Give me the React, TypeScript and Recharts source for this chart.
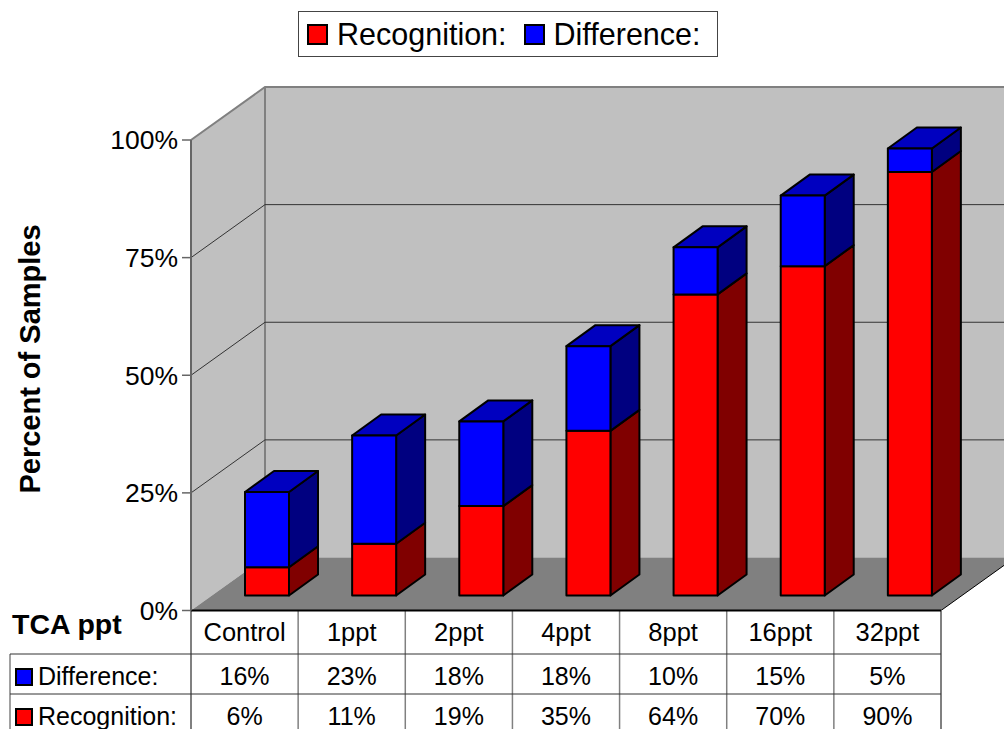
import { BarChart, Bar, XAxis, YAxis, CartesianGrid, Legend, Customized } from 'recharts'

const categories = ['Control', '1ppt', '2ppt', '4ppt', '8ppt', '16ppt', '32ppt']
const recognition = [6, 11, 19, 35, 64, 70, 90]
const difference = [16, 23, 18, 18, 10, 15, 5]
const yTicks = [0, 25, 50, 75, 100]

const chartData = categories.map((name, i) => ({
  name,
  recognition: recognition[i],
  difference: difference[i],
}))

const WIDTH = 1004
const HEIGHT = 729
const FONT = '"Liberation Sans", Arial, sans-serif'

// plot rectangle (front plane of the box)
const LEFT = 191
const RIGHT = 941
const TOP = 140
const BOTTOM = 610.5
const COL = (RIGHT - LEFT) / categories.length

// depth of the box and of each column
const DX = 74
const DY = -53
const BAR_DX = 29
const BAR_DY = -21
const BAR_SHIFT_X = 22
const BAR_SHIFT_Y = -15

const RED = { front: '#ff0000', side: '#800000', top: '#c00000' }
const BLUE = { front: '#0000ff', side: '#000080', top: '#0000c0' }

function Block(props: any) {
  const { x, y, width, height, colors, cap } = props
  const x0 = x + BAR_SHIFT_X
  const y0 = y + BAR_SHIFT_Y
  const x1 = x0 + width
  const y1 = y0 + height
  const line = { stroke: '#000', strokeWidth: 2, strokeLinejoin: 'round' as const }
  return (
    <g>
      <polygon
        points={`${x1},${y0} ${x1 + BAR_DX},${y0 + BAR_DY} ${x1 + BAR_DX},${y1 + BAR_DY} ${x1},${y1}`}
        fill={colors.side}
        {...line}
      />
      {cap && (
        <polygon
          points={`${x0},${y0} ${x0 + BAR_DX},${y0 + BAR_DY} ${x1 + BAR_DX},${y0 + BAR_DY} ${x1},${y0}`}
          fill={colors.top}
          {...line}
        />
      )}
      <rect x={x0} y={y0} width={width} height={height} fill={colors.front} {...line} />
    </g>
  )
}

// gridline runs up the side wall, then along the back wall
function GridLine3D(props: any) {
  const { x1, y1, index } = props
  if (Math.abs(y1 - BOTTOM) < 1 || Math.abs(y1 - TOP) < 1) return <g key={index} />
  return (
    <polyline
      key={index}
      points={`${x1},${y1} ${x1 + DX},${y1 + DY} ${WIDTH},${y1 + DY}`}
      fill="none"
      stroke="#333"
      strokeWidth={1}
    />
  )
}

// side wall, back wall and floor sit behind the chart svg
function Walls() {
  const backX = LEFT + DX
  const topY = TOP + DY
  const floorY = BOTTOM + DY
  return (
    <svg width={WIDTH} height={HEIGHT} style={{ position: 'absolute', left: 0, top: 0 }}>
      <polygon
        points={`${LEFT},${TOP} ${backX},${topY} ${backX},${floorY} ${LEFT},${BOTTOM}`}
        fill="#c0c0c0"
      />
      <rect x={backX} y={topY} width={WIDTH - backX} height={floorY - topY} fill="#c0c0c0" />
      <polygon
        points={`${LEFT},${BOTTOM} ${RIGHT},${BOTTOM} ${RIGHT + DX},${floorY} ${backX},${floorY}`}
        fill="#808080"
      />
      <polyline
        points={`${LEFT},${TOP} ${backX},${topY} ${WIDTH},${topY}`}
        fill="none"
        stroke="#808080"
        strokeWidth={2}
      />
      <line x1={backX} y1={topY} x2={backX} y2={floorY} stroke="#808080" strokeWidth={2} />
      <line x1={RIGHT} y1={BOTTOM} x2={RIGHT + DX} y2={floorY} stroke="#000" strokeWidth={1} />
    </svg>
  )
}

function DataTable() {
  const rows = [
    { label: 'Difference:', values: difference, fill: BLUE.front, top: 654, base: 685 },
    { label: 'Recognition:', values: recognition, fill: RED.front, top: 694, base: 725 },
  ]
  const textStyle = { fontFamily: FONT, fontSize: 25, fill: '#000' }
  const boldStyle = { fontFamily: FONT, fontWeight: 700, fill: '#000' }
  return (
    <g>
      {categories.map((_, i) => (
        <line
          key={i}
          x1={LEFT + i * COL}
          y1={BOTTOM}
          x2={LEFT + i * COL}
          y2={HEIGHT}
          stroke="#808080"
          strokeWidth={i === 0 ? 2 : 1.5}
        />
      ))}
      <line x1={RIGHT} y1={BOTTOM} x2={RIGHT} y2={HEIGHT} stroke="#808080" strokeWidth={2} />
      <line x1={10} y1={654} x2={10} y2={HEIGHT} stroke="#808080" strokeWidth={1.5} />
      {rows.map(row => (
        <g key={row.label}>
          <line x1={10} y1={row.top} x2={RIGHT} y2={row.top} stroke="#333" strokeWidth={1} />
          <rect x={16} y={row.top + 15} width={16} height={16} fill={row.fill} stroke="#000" strokeWidth={2} />
          <text x={38} y={row.base} style={textStyle}>{row.label}</text>
          {row.values.map((v, i) => (
            <text key={i} x={LEFT + (i + 0.5) * COL} y={row.base} textAnchor="middle" style={textStyle}>
              {v}%
            </text>
          ))}
        </g>
      ))}
      <text x={12} y={634} style={{ ...boldStyle, fontSize: 28.5 }}>TCA ppt</text>
      <text x={0} y={0} textAnchor="middle" transform="translate(40 359) rotate(-90)" style={{ ...boldStyle, fontSize: 29 }}>
        Percent of Samples
      </text>
    </g>
  )
}

function LegendBox({ payload }: any) {
  return (
    <div
      style={{
        display: 'flex',
        alignItems: 'center',
        boxSizing: 'border-box',
        width: 420,
        height: 46,
        paddingLeft: 8,
        background: '#fff',
        border: '1px solid #444',
        fontFamily: FONT,
        fontSize: 30.5,
        color: '#000',
      }}
    >
      {(payload ?? []).map((p: any) => (
        <span key={p.value} style={{ display: 'flex', alignItems: 'center', marginRight: 17 }}>
          <span
            style={{
              boxSizing: 'border-box',
              width: 21,
              height: 21,
              marginRight: 9,
              background: p.color,
              border: '2px solid #000',
            }}
          />
          {p.value}
        </span>
      ))}
    </div>
  )
}

export default function App() {
  return (
    <div style={{ position: 'absolute', left: 0, top: 0, width: WIDTH, height: HEIGHT, overflow: 'hidden', background: '#fff' }}>
      <Walls />
      <BarChart
        width={WIDTH}
        height={HEIGHT}
        data={chartData}
        barSize={44}
        margin={{ top: TOP, right: WIDTH - RIGHT, bottom: HEIGHT - BOTTOM - 40, left: LEFT - 80 }}
      >
        <CartesianGrid vertical={false} horizontal={GridLine3D as any} />
        <XAxis
          dataKey="name"
          height={40}
          tickLine={false}
          axisLine={{ stroke: '#000', strokeWidth: 2 }}
          interval={0}
          tickMargin={6}
          tick={{ fontFamily: FONT, fontSize: 25.5, fill: '#000' }}
        />
        <YAxis
          width={80}
          domain={[0, 100]}
          ticks={yTicks}
          tickFormatter={(v: number) => `${v}%`}
          tickSize={9}
          tickMargin={4}
          interval={0}
          axisLine={{ stroke: '#666', strokeWidth: 2 }}
          tickLine={{ stroke: '#666', strokeWidth: 1.5 }}
          tick={{ fontFamily: FONT, fontSize: 26.5, fill: '#000' }}
        />
        <Customized component={DataTable} />
        <Legend
          layout="horizontal"
          align="center"
          verticalAlign="middle"
          itemSorter={null}
          wrapperStyle={{ left: 298, top: 11, width: 420, height: 46 }}
          content={<LegendBox />}
        />
        <Bar
          dataKey="recognition"
          name="Recognition:"
          stackId="a"
          fill={RED.front}
          isAnimationActive={false}
          shape={(p: any) => <Block {...p} colors={RED} />}
        />
        <Bar
          dataKey="difference"
          name="Difference:"
          stackId="a"
          fill={BLUE.front}
          isAnimationActive={false}
          shape={(p: any) => <Block {...p} colors={BLUE} cap />}
        />
      </BarChart>
    </div>
  )
}
